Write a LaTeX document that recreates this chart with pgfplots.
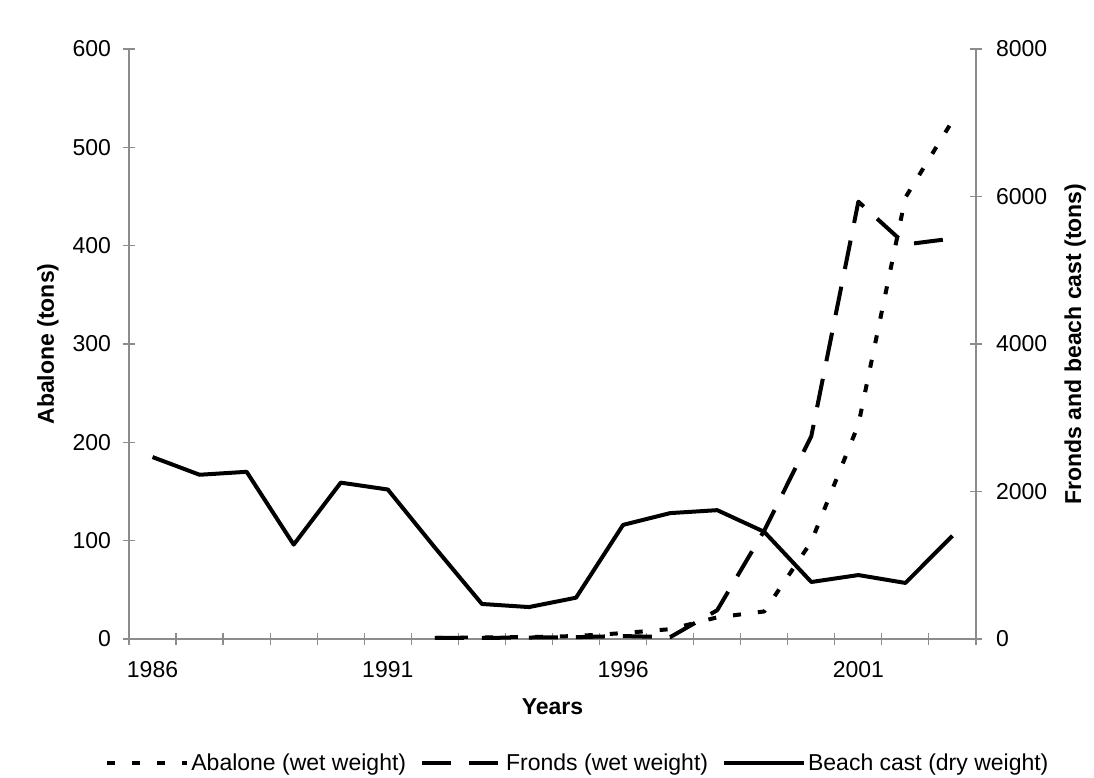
\documentclass[border=0pt]{standalone}
\usepackage{fontspec}
\setmainfont{Liberation Sans}
\usepackage{pgfplots}
\pgfplotsset{compat=1.18}

\definecolor{axisgray}{RGB}{140,140,140}

\pgfplotsset{
  chartbase/.style={
    scale only axis, width=847pt, height=590pt,
    xmin=1985.5, xmax=2003.5, ymin=0,
    tick align=center, major tick length=13pt,
    every tick/.style={axisgray, line width=1.2pt},
    axis line style={axisgray, line width=1.2pt},
    tick label style={font=\fontsize{23}{27}\selectfont, black},
    label style={font=\fontsize{23}{27}\selectfont\bfseries},
    /pgf/number format/assume math mode=true,
    /pgf/number format/1000 sep={},
  },
  serie/.style={black, line width=4pt, line join=round},
  legend image code/.code={\draw[#1] (0pt,0pt) -- (80pt,0pt);},
}

\begin{document}
\begin{tikzpicture}
\useasboundingbox (-129pt,-139pt) rectangle (965pt,639pt);

% left axis: abalone
\begin{axis}[chartbase,
  axis x line*=bottom, axis y line*=left,
  ymax=600, ytick={0,100,...,600},
  yticklabel style={xshift=-8pt},
  xtick={1985.5,1986.5,...,2003.5}, xticklabels={},
  extra x ticks={1986,1991,1996,2001},
  extra x tick labels={1986,1991,1996,2001},
  extra x tick style={major tick length=0pt, xticklabel style={yshift=-19pt}},
  xlabel={Years}, ylabel={Abalone (tons)},
  xlabel style={at={(axis description cs:0.5,-0.115)}, anchor=center},
  ylabel style={at={(axis description cs:-0.0956,0.5)}, anchor=center},
]
\addplot[serie, dash pattern=on 8pt off 17pt] coordinates {
  (1992,1)(1993,1.5)(1994,2)(1995,3)(1996,6)(1997,10)(1998,22)(1999,28)
  (2000,99)(2001,218)(2002,449)(2003,527)};
\end{axis}

% right axis: fronds and beach cast
\begin{axis}[chartbase,
  axis y line*=right, axis x line=none,
  ymax=8000, ytick={0,2000,...,8000},
  yticklabel style={xshift=10pt},
  ylabel={Fronds and beach cast (tons)},
  ylabel style={at={(axis description cs:1.117,0.5)}, anchor=center},
  legend style={draw=none, fill=none, at={(axis description cs:0.530,-0.210)},
    anchor=center, legend columns=3, font=\fontsize{23}{27}\selectfont,
    nodes={inner sep=2pt},
    /tikz/every even column/.append style={column sep=12pt}},
  legend cell align=left,
]
\addlegendimage{serie, dash pattern=on 8pt off 17pt}
\addlegendentry{Abalone (wet weight)}
\addplot[serie, dash pattern=on 29pt off 18pt] coordinates {
  (1992,15)(1993,15)(1994,20)(1995,25)(1996,40)(1997,25)(1998,390)(1999,1470)
  (2000,2750)(2001,5930)(2002,5350)(2003,5430)};
\addlegendentry{Fronds (wet weight)}
\addplot[serie] coordinates {
  (1986,2467)(1987,2227)(1988,2267)(1989,1280)(1990,2120)(1991,2027)
  (1992,1240)(1993,475)(1994,433)(1995,560)(1996,1547)(1997,1707)
  (1998,1747)(1999,1453)(2000,773)(2001,867)(2002,760)(2003,1400)};
\addlegendentry{Beach cast (dry weight)}
\end{axis}
\end{tikzpicture}
\end{document}
